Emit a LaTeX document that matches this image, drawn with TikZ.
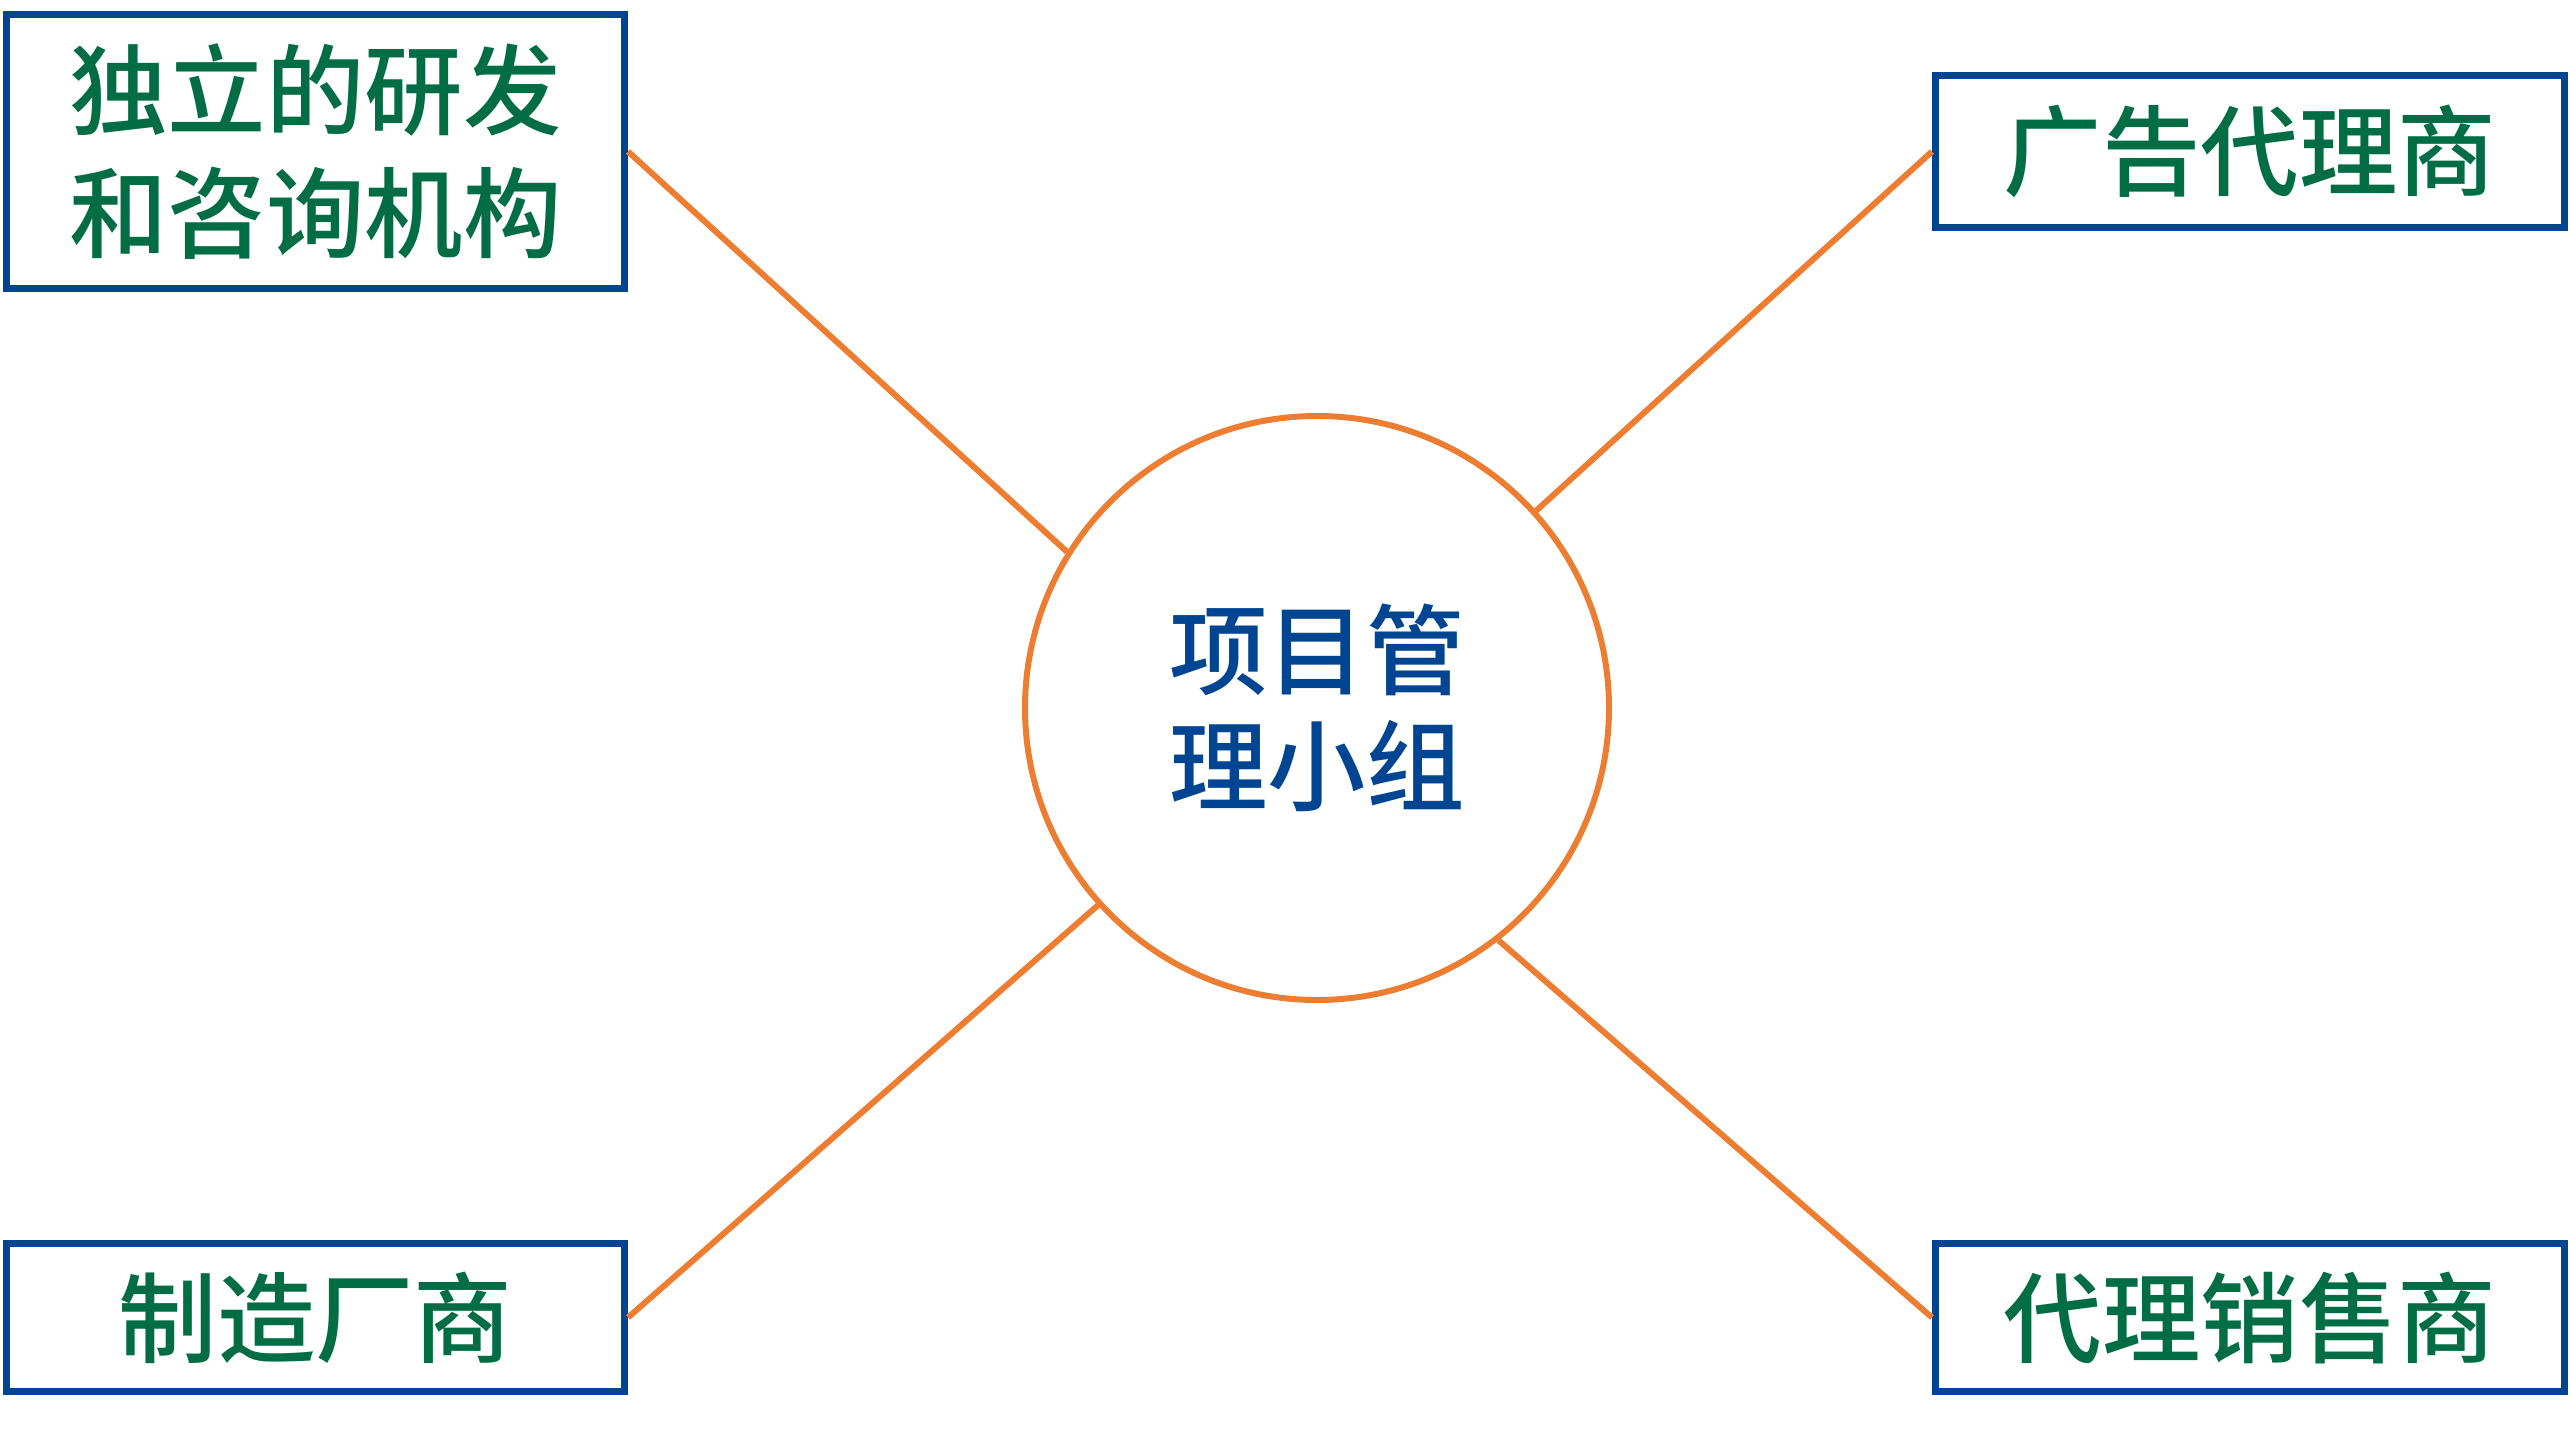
\documentclass[tikz,border=0pt]{standalone}
\usepackage{fontspec}
\usepackage{xcolor}
\usepackage{tikz}
\newfontfamily\cjk{Noto Sans CJK SC}[BoldFont={Noto Sans CJK SC Medium}]
\definecolor{frameblue}{HTML}{004592}
\definecolor{textgreen}{HTML}{006D44}
\definecolor{linkorange}{HTML}{ED7D31}

\begin{document}
\begin{tikzpicture}[
    party/.style={rectangle, draw=frameblue, line width=2pt, fill=white, text=textgreen, inner sep=0pt, font=\cjk\bfseries\fontsize{28}{35}\selectfont},
    team/.style={circle, draw=linkorange, line width=1.7pt, minimum size=5.84cm, inner sep=0pt, text=frameblue, font=\cjk\bfseries\fontsize{28}{33}\selectfont},
    link/.style={draw=linkorange, line width=1.7pt},
    every node/.style={align=center}
]
\useasboundingbox (0,0) rectangle (25.71,14.39);

% Centre
\node[team] (team) at (13.17,7.31) {项目管\\理小组};

% Partners
\node[party, minimum width=6.18cm, minimum height=2.74cm] (rd) at (3.155,12.875) {独立的研发\\和咨询机构};
\node[party, minimum width=6.29cm, minimum height=1.52cm] (ads) at (22.50,12.875) {广告代理商};
\node[party, minimum width=6.18cm, minimum height=1.48cm] (maker) at (3.155,1.215) {制造厂商};
\node[party, minimum width=6.29cm, minimum height=1.48cm] (sales) at (22.50,1.215) {代理销售商};

% Links
\draw[link] (rd.east) -- (team.148);
\draw[link] (ads.west) -- (team.42);
\draw[link] (maker.east) -- (team.222);
\draw[link] (sales.west) -- (team.308);

\end{tikzpicture}
\end{document}
